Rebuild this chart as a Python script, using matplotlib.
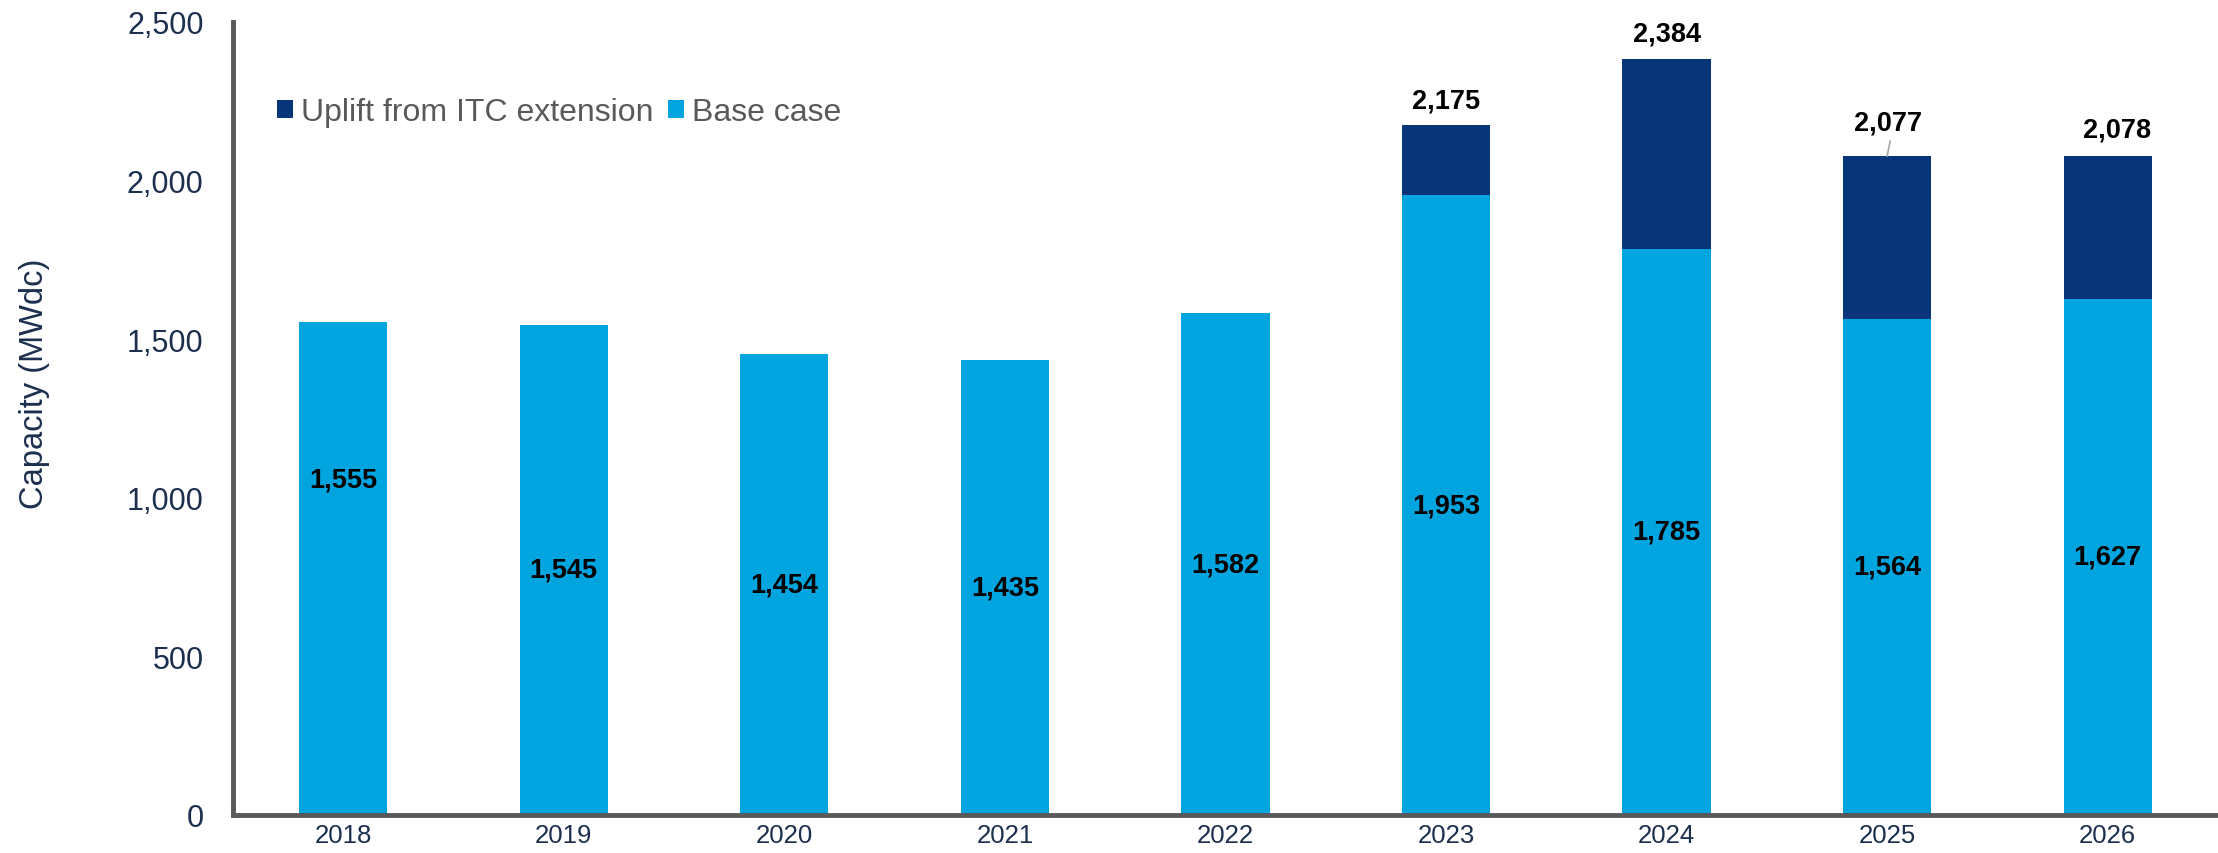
import numpy as np
import matplotlib.pyplot as plt
from matplotlib.ticker import FuncFormatter

anos = ['2018', '2019', '2020', '2021', '2022', '2023', '2024', '2025', '2026']
base = [1555, 1545, 1454, 1435, 1582, 1953, 1785, 1564, 1627]
# totais com a extensão do ITC (só a partir de 2023)
total_itc = [None, None, None, None, None, 2175, 2384, 2077, 2078]

AZUL_CLARO = '#00A5E0'
AZUL_ESCURO = '#08357A'
MARINHO = '#1C2F4F'
CINZA = '#595959'

plt.rcParams['font.family'] = ['Liberation Sans', 'DejaVu Sans']

fig = plt.figure(figsize=(22.18, 8.54), dpi=100)
ax = fig.add_axes([0.105, 0.0445, 0.895, 0.9286])

x = np.arange(len(anos))
base = np.array(base)
uplift = np.array([t - b if t is not None else 0 for t, b in zip(total_itc, base)])

ax.bar(x, uplift, width=0.40, bottom=base, color=AZUL_ESCURO,
       label='Uplift from ITC extension')
ax.bar(x, base, width=0.40, color=AZUL_CLARO, label='Base case')

# rótulos dentro das barras (2018 fica um pouco acima do meio)
ajuste = {0: 280}
for i, b in enumerate(base):
    ax.text(x[i], b / 2 + ajuste.get(i, 0), f'{b:,}', ha='center', va='center',
            fontsize=19.5, fontweight='bold', color='black')

# rótulos dos totais, com deslocamento em pontos
desloc = {5: (0, 18), 6: (0, 18), 7: (1, 24), 8: (6.5, 19)}
for i, t in enumerate(total_itc):
    if t is None:
        continue
    dx, dy = desloc[i]
    ax.annotate(f'{t:,}', xy=(x[i], t), xytext=(dx, dy), textcoords='offset points',
                ha='center', va='center', fontsize=19.5, fontweight='bold',
                color='black')

# linha de chamada do rótulo de 2025
ax.annotate('', xy=(x[7], total_itc[7]), xytext=(2.2, 11), textcoords='offset points',
            arrowprops=dict(arrowstyle='-', color='#A6A6A6', lw=1.2,
                            shrinkA=0, shrinkB=0))

ax.set_xlim(-0.5, 8.5)
ax.set_ylim(0, 2500)
ax.set_yticks(np.arange(0, 2501, 500))
ax.yaxis.set_major_formatter(FuncFormatter(lambda v, p: f'{int(v):,}'))
ax.set_xticks(x)
ax.set_xticklabels(anos)

ax.tick_params(axis='y', length=0, pad=21, labelsize=22, labelcolor=MARINHO)
ax.tick_params(axis='x', length=0, pad=6, labelsize=18.5, labelcolor=MARINHO)

for lado in ['top', 'right']:
    ax.spines[lado].set_visible(False)
for lado in ['left', 'bottom']:
    ax.spines[lado].set_color(CINZA)
    ax.spines[lado].set_linewidth(3.5)

ax.set_ylabel('Capacity (MWdc)', fontsize=23.5, color=MARINHO)
ax.yaxis.set_label_coords(-0.0922, 0.545)

# Posiciona a legenda
handles, labels = ax.get_legend_handles_labels()
leg = fig.legend(handles, labels, loc='center left', bbox_to_anchor=(0.1249, 0.8677),
                 ncol=2, frameon=False, fontsize=23, borderpad=0, borderaxespad=0,
                 handlelength=0.5, handleheight=0.5, handletextpad=0.25,
                 columnspacing=0.45)
for txt in leg.get_texts():
    txt.set_color(CINZA)

plt.savefig('out.png', dpi=100)
